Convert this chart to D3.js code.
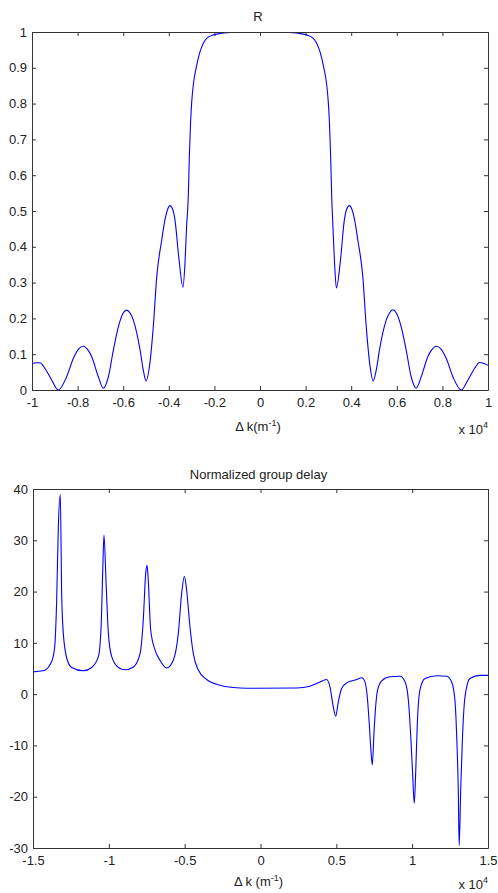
<!DOCTYPE html>
<html>
<head>
<meta charset="utf-8">
<script src="https://cdn.jsdelivr.net/npm/d3@7"></script>
<style>
  html, body { margin: 0; padding: 0; background: #fff; }
  svg { display: block; font-family: "Liberation Sans", Arial, sans-serif; }
  .axis text { font-size: 13px; fill: #222; }
  .axis line, .axis path { stroke: #333; }
</style>
</head>
<body>
<div id="chart"></div>
<script>
// reflectance R vs delta k (x 10^4)
const reflK = [
  -1.00, -0.98, -0.965, -0.943, -0.914, -0.885, -0.848, -0.819, -0.795, -0.775,
  -0.755, -0.738, -0.709, -0.687, -0.665, -0.643, -0.621, -0.600, -0.585, -0.570,
  -0.556, -0.526, -0.512, -0.500, -0.485, -0.468, -0.453, -0.431, -0.417, -0.405,
  -0.395, -0.383, -0.373, -0.355, -0.338, -0.329, -0.322, -0.314, -0.310, -0.305,
  -0.300, -0.293, -0.280, -0.263, -0.249, -0.234, -0.205, -0.160, -0.130, -0.080,
  0.000,
  0.080, 0.130, 0.160, 0.205, 0.234, 0.249, 0.263, 0.280, 0.293, 0.300,
  0.305, 0.310, 0.314, 0.320, 0.327, 0.335, 0.353, 0.370, 0.380, 0.392,
  0.403, 0.415, 0.429, 0.451, 0.466, 0.483, 0.496, 0.510, 0.524, 0.554,
  0.568, 0.582, 0.598, 0.619, 0.641, 0.663, 0.685, 0.707, 0.736, 0.753,
  0.773, 0.793, 0.817, 0.846, 0.883, 0.912, 0.941, 0.963, 0.980, 1.000
];
const reflR = [
  0.074, 0.076, 0.076, 0.060, 0.028, 0.000, 0.037, 0.088, 0.115, 0.122,
  0.112, 0.093, 0.037, 0.005, 0.037, 0.112, 0.177, 0.215, 0.223, 0.215,
  0.196, 0.112, 0.056, 0.025, 0.065, 0.177, 0.316, 0.419, 0.475, 0.505,
  0.515, 0.505, 0.475, 0.363, 0.287, 0.355, 0.456, 0.550, 0.650, 0.740,
  0.800, 0.850, 0.900, 0.945, 0.968, 0.982, 0.992, 0.997, 0.999, 1.000,
  1.000,
  1.000, 0.999, 0.997, 0.992, 0.982, 0.968, 0.945, 0.900, 0.850, 0.800,
  0.740, 0.650, 0.550, 0.456, 0.355, 0.285, 0.363, 0.475, 0.505, 0.515,
  0.505, 0.475, 0.419, 0.316, 0.177, 0.065, 0.025, 0.056, 0.112, 0.196,
  0.215, 0.224, 0.215, 0.177, 0.112, 0.037, 0.005, 0.037, 0.093, 0.112,
  0.122, 0.115, 0.088, 0.037, 0.000, 0.028, 0.060, 0.077, 0.075, 0.069
];

// normalized group delay vs delta k (x 10^4)
const delayK = [
  -1.500, -1.434, -1.390, -1.367, -1.355, -1.344, -1.333, -1.320, -1.311, -1.300,
  -1.277, -1.245, -1.168, -1.113, -1.069, -1.051, -1.040, -1.032, -1.018, -1.003,
  -0.981, -0.937, -0.893, -0.838, -0.794, -0.773, -0.757, -0.748, -0.740, -0.724,
  -0.695, -0.663, -0.619, -0.575, -0.542, -0.520, -0.502, -0.487, -0.465, -0.443,
  -0.410, -0.355, -0.267, -0.180, -0.090, 0.239, 0.326, 0.381, 0.436, 0.458,
  0.480, 0.496, 0.513, 0.535, 0.568, 0.634, 0.667, 0.689, 0.704, 0.717,
  0.728, 0.737, 0.748, 0.759, 0.772, 0.799, 0.854, 0.920, 0.953, 0.975,
  0.992, 1.003, 1.014, 1.023, 1.034, 1.051, 1.084, 1.162, 1.228, 1.260,
  1.282, 1.293, 1.304, 1.310, 1.320, 1.331, 1.348, 1.381, 1.447, 1.500
];
const delayT = [
  4.35, 4.55, 5.65, 7.3, 9.9, 18.3, 32.6, 38.9, 19.6, 11.8,
  6.95, 5.2, 4.55, 5.2, 7.3, 13.1, 24.2, 31.0, 21.6, 11.8,
  7.3, 5.2, 4.75, 5.3, 7.9, 14.4, 23.5, 25.1, 22.2, 12.5,
  8.6, 6.6, 5.1, 6.6, 11.8, 19.6, 23.0, 20.3, 13.1, 7.9,
  4.7, 2.85, 1.75, 1.3, 1.15, 1.2, 1.55, 2.2, 2.85, 1.4,
  -2.5, -4.3, -1.5, 1.1, 2.2, 2.85, 3.2, 2.4, -0.5, -5.7,
  -10.9, -13.8, -7.7, -2.5, 0.8, 2.6, 3.4, 3.5, 2.4, -1.2,
  -9.0, -15.5, -21.3, -15.5, -5.7, 0.8, 3.05, 3.6, 3.5, 2.4,
  -1.2, -7.7, -18.7, -29.5, -18.7, -9.0, -0.6, 3.05, 3.65, 3.65
];

const reflXTicks = [-1, -0.8, -0.6, -0.4, -0.2, 0, 0.2, 0.4, 0.6, 0.8, 1];
const reflYTicks = [0, 0.1, 0.2, 0.3, 0.4, 0.5, 0.6, 0.7, 0.8, 0.9, 1];
const delayXTicks = [-1.5, -1, -0.5, 0, 0.5, 1, 1.5];
const delayYTicks = [-30, -20, -10, 0, 10, 20, 30, 40];

const svg = d3.select("#chart")
  .append("svg")
  .attr("width", 498)
  .attr("height", 893);

function drawPanel(opts) {
  const { id, xs, ys, left, right, top, bottom, xDomain, yDomain, xTicks, yTicks,
          title, titleY, labelSep, labelY, expY } = opts;

  const x = d3.scaleLinear().domain(xDomain).range([left, right]);
  const y = d3.scaleLinear().domain(yDomain).range([bottom, top]);
  const fmt = d => String(+d.toFixed(2));

  const g = svg.append("g");

  g.append("clipPath").attr("id", id)
    .append("rect")
    .attr("x", left).attr("y", top)
    .attr("width", right - left).attr("height", bottom - top);

  const data = xs.map((k, i) => ({ k, v: ys[i] }));
  const line = d3.line()
    .x(d => x(d.k))
    .y(d => y(d.v))
    .curve(d3.curveMonotoneX);

  g.append("path")
    .datum(data)
    .attr("clip-path", `url(#${id})`)
    .attr("fill", "none")
    .attr("stroke", "#0000ff")
    .attr("stroke-width", 1.1)
    .attr("d", line);

  // MATLAB style box with inward ticks
  g.append("g").attr("class", "axis")
    .attr("transform", `translate(0,${bottom})`)
    .call(d3.axisBottom(x).tickValues(xTicks).tickFormat(fmt)
      .tickSizeInner(-4).tickSizeOuter(0).tickPadding(8));
  g.append("g").attr("class", "axis")
    .attr("transform", `translate(0,${top})`)
    .call(d3.axisTop(x).tickValues(xTicks).tickFormat("")
      .tickSizeInner(-4).tickSizeOuter(0));
  g.append("g").attr("class", "axis")
    .attr("transform", `translate(${left},0)`)
    .call(d3.axisLeft(y).tickValues(yTicks).tickFormat(fmt)
      .tickSizeInner(-4).tickSizeOuter(0).tickPadding(5));
  g.append("g").attr("class", "axis")
    .attr("transform", `translate(${right},0)`)
    .call(d3.axisRight(y).tickValues(yTicks).tickFormat("")
      .tickSizeInner(-4).tickSizeOuter(0));

  g.selectAll(".axis text").attr("font-family", null).attr("font-size", null);

  g.append("text")
    .attr("x", (left + right) / 2 - 2)
    .attr("y", titleY)
    .attr("text-anchor", "middle")
    .attr("font-size", 13)
    .attr("fill", "#222")
    .text(title);

  const lab = g.append("text")
    .attr("x", (left + right) / 2 - 2)
    .attr("y", labelY)
    .attr("text-anchor", "middle")
    .attr("font-size", 13)
    .attr("fill", "#222");
  lab.append("tspan").text(`\u0394 k${labelSep}(m`);
  lab.append("tspan").attr("dy", -5).attr("font-size", 9).text("-1");
  lab.append("tspan").attr("dy", 5).text(")");

  const exp = g.append("text")
    .attr("x", right)
    .attr("y", expY)
    .attr("text-anchor", "end")
    .attr("font-size", 13)
    .attr("fill", "#222");
  exp.append("tspan").text("x 10");
  exp.append("tspan").attr("dy", -6).attr("font-size", 9).text("4");
}

drawPanel({
  id: "clip-r", xs: reflK, ys: reflR,
  left: 32, right: 488, top: 32, bottom: 390,
  xDomain: [-1, 1], yDomain: [0, 1],
  xTicks: reflXTicks, yTicks: reflYTicks,
  title: "R", titleY: 21, labelSep: "", labelY: 431, expY: 434
});

drawPanel({
  id: "clip-d", xs: delayK, ys: delayT,
  left: 33, right: 488, top: 489, bottom: 848,
  xDomain: [-1.5, 1.5], yDomain: [-30, 40],
  xTicks: delayXTicks, yTicks: delayYTicks,
  title: "Normalized group delay", titleY: 479, labelSep: " ", labelY: 886, expY: 889
});
</script>
</body>
</html>
